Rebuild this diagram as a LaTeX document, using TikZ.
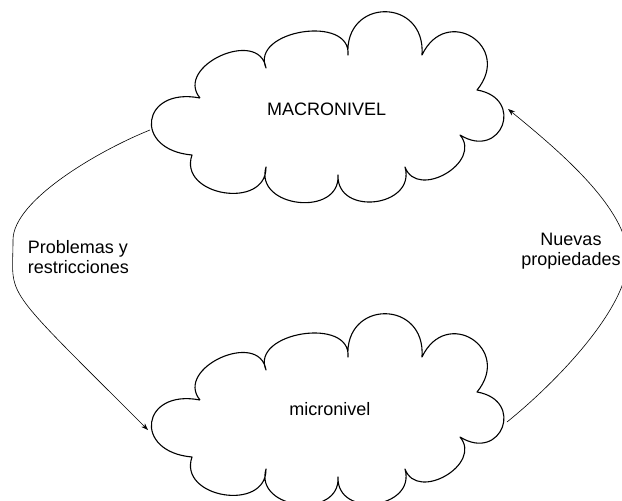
\documentclass[tikz,border=0pt]{standalone}
\usepackage{fontspec}
\setmainfont{Liberation Sans}
\usetikzlibrary{calc,arrows.meta}
\tikzset{
  cloudline/.style={line width=1.1pt, line join=round},
  conn/.style={line width=0.6pt},
  tip/.style={-{Stealth[length=7pt,width=5pt]}},
  lbl/.style={font=\fontsize{18}{20}\selectfont, inner sep=0pt},
  puff/.style n args={6}{insert path={.. controls ($(#1)!#3!#4:(#2)$) and ($(#2)!#5!#6:(#1)$) .. (#2)}},
}
\newcommand\drawmycloud[2]{%
  \begin{scope}[shift={(0,#2)}]
    \coordinate (#1c1) at (200,98);
    \coordinate (#1c2) at (266,68);
    \coordinate (#1c3) at (348,55);
    \coordinate (#1c4) at (422,55);
    \coordinate (#1c5) at (477,90);
    \coordinate (#1c6) at (460,135);
    \coordinate (#1c7) at (405,167);
    \coordinate (#1c8) at (338,175);
    \coordinate (#1c9) at (266,167);
    \coordinate (#1c10) at (192,155);
  \end{scope}
  \draw[cloudline] (#1c1)
    [puff={#1c1}{#1c2}{0.57}{105}{0.57}{-105}]
    [puff={#1c2}{#1c3}{0.495}{104}{0.495}{-104}]
    [puff={#1c3}{#1c4}{0.782}{94}{0.782}{-94}]
    [puff={#1c4}{#1c5}{0.866}{97}{0.866}{-97}]
    [puff={#1c5}{#1c6}{1.02}{101}{1.02}{-101}]
    [puff={#1c6}{#1c7}{0.559}{100}{0.559}{-100}]
    [puff={#1c7}{#1c8}{0.618}{99}{0.618}{-99}]
    [puff={#1c8}{#1c9}{0.589}{100}{0.589}{-100}]
    [puff={#1c9}{#1c10}{0.579}{100}{0.579}{-100}]
    [puff={#1c10}{#1c1}{1.04}{93}{1.04}{-93}];
}
\begin{document}
\begin{tikzpicture}[x=1pt,y=-1pt]
  \useasboundingbox (0,0) rectangle (622,501);
  \drawmycloud{t}{0}
  \drawmycloud{b}{302}
  \node[lbl, anchor=base] (macro) at (326.7,115) {MACRONIVEL};
  \node[lbl, anchor=base] (micro) at (330,415.7) {micronivel};
  \node[lbl, align=left, anchor=base west] (prob) at (27.7,273.3) {Problemas y\\restricciones};
  \node[lbl, align=center, anchor=base] (nuev) at (571,265) {Nuevas\\propiedades};
  % connectors
  \coordinate (tw) at (150,130);
  \coordinate (lm) at (13,240);
  \coordinate (bw) at (148,430);
  \coordinate (be) at (507,422);
  \coordinate (rm) at (628,258);
  \coordinate (te) at (508,109);
  \draw[conn, tip] (tw) .. controls (100,150) and (13,200) .. (lm)
                        .. controls (13,300) and (-2,280) .. (bw);
  \draw[conn, tip] (be) .. controls (556.6,382) and (628,308) .. (rm)
                        .. controls (628,208) and (556.8,149) .. (te);
\end{tikzpicture}
\end{document}
